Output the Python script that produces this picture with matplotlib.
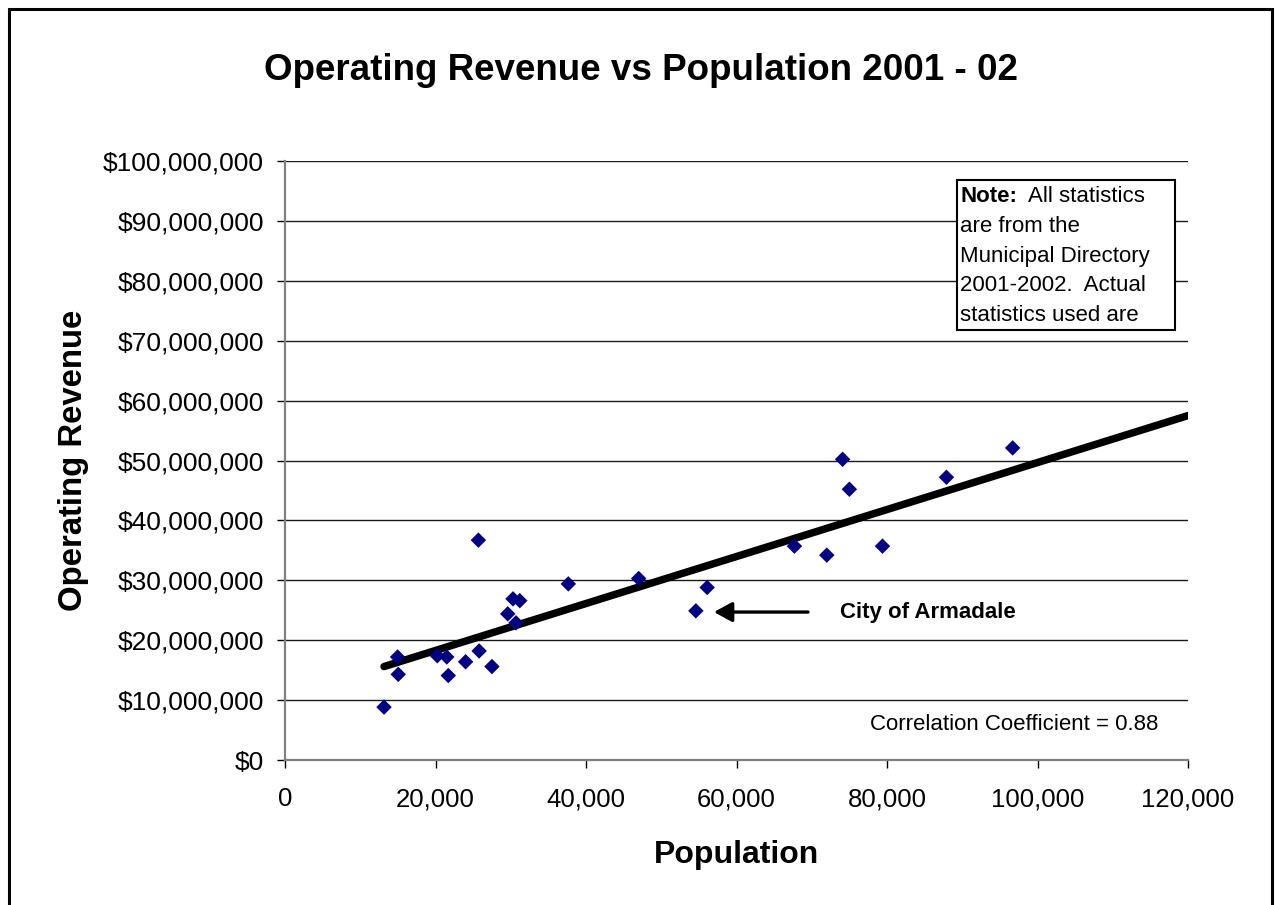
import numpy as np
import matplotlib
matplotlib.use("Agg")
import matplotlib.pyplot as plt
from matplotlib.patches import Rectangle
from matplotlib.ticker import FuncFormatter

plt.rcParams['font.family'] = ['Liberation Sans', 'DejaVu Sans']

# Population and operating revenue (dollars) per local government, 2001-02
population = [13160, 14960, 15050, 20240, 21500, 21700, 24000, 25800, 25700,
              27500, 29600, 30300, 30700, 31200, 37650, 47000, 56100, 54600,
              67700, 72000, 74100, 75000, 79400, 87900, 96700]
revenue = [8.83e6, 17.2e6, 14.3e6, 17.4e6, 17.2e6, 14.1e6, 16.4e6, 18.2e6, 36.7e6,
           15.6e6, 24.4e6, 26.9e6, 22.9e6, 26.6e6, 29.4e6, 30.3e6, 28.8e6, 24.9e6,
           35.7e6, 34.2e6, 50.2e6, 45.2e6, 35.7e6, 47.2e6, 52.1e6]

# linear trend line end points (population, revenue)
trend_pop = [13160, 120000]
trend_rev = [15.6e6, 57.5e6]

x_ticks = [0, 20000, 40000, 60000, 80000, 100000, 120000]
y_ticks = [0, 10e6, 20e6, 30e6, 40e6, 50e6, 60e6, 70e6, 80e6, 90e6, 100e6]

highlight_rev = 24.9e6
highlight_name = "City of Armadale"
correlation = 0.88

fig = plt.figure(figsize=(12.76, 9.05), dpi=100)
ax = fig.add_axes([285 / 1276, 1 - 760 / 905, 903 / 1276, 599 / 905])

ax.plot(trend_pop, trend_rev, color='black', lw=5.4,
        solid_capstyle='round', zorder=2)

ax.scatter(population, revenue, marker='D', s=62, color='#000080',
           edgecolors='none', zorder=3)

ax.set_xlim(x_ticks[0], x_ticks[-1])
ax.set_ylim(y_ticks[0], y_ticks[-1])
ax.set_xticks(x_ticks)
ax.set_yticks(y_ticks)
ax.xaxis.set_major_formatter(FuncFormatter(lambda v, p: f"{int(v):,}"))
ax.yaxis.set_major_formatter(FuncFormatter(lambda v, p: f"${int(v):,}"))
ax.tick_params(axis='both', color='#000000', width=1)
ax.tick_params(axis='y', labelsize=19, length=6, pad=9, direction='out')
ax.tick_params(axis='x', labelsize=18.5, length=5.5, pad=14, direction='out')

ax.grid(axis='y', color='#1a1a1a', lw=1.0, zorder=1)
ax.set_axisbelow(True)
for side in ('top', 'right'):
    ax.spines[side].set_visible(False)
for side in ('left', 'bottom'):
    ax.spines[side].set_color('#808080')
    ax.spines[side].set_linewidth(1.6)

ax.set_xlabel("Population", fontsize=23, fontweight='bold', labelpad=21)
ax.set_ylabel("Operating Revenue", fontsize=23.7, fontweight='bold', labelpad=10)

fig.text(641 / 1276, 1 - 70 / 905, "Operating Revenue vs Population 2001 - 02",
         ha='center', va='center', fontsize=26.5, fontweight='bold')

# arrow pointing at the highlighted council
ax.annotate("", xy=(57000, highlight_rev - 0.2e6), xytext=(69500, highlight_rev - 0.2e6),
            arrowprops=dict(arrowstyle='-|>,head_length=1.1,head_width=0.6',
                            color='black', lw=2.4, shrinkA=0, shrinkB=0))
ax.text(73700, highlight_rev - 0.3e6, highlight_name, fontsize=16, fontweight='bold',
        ha='left', va='center')

ax.text(0.967, 0.060, f"Correlation Coefficient = {correlation:.2f}",
        transform=ax.transAxes, fontsize=16, ha='right', va='center')

# note box
box = Rectangle((0.744, 0.718), 0.2415, 0.25, transform=ax.transAxes,
                facecolor='white', edgecolor='black', lw=1.5, zorder=5)
ax.add_patch(box)
note_lines = [("Note:", "  All statistics"), ("", "are from the"),
              ("", "Municipal Directory"), ("", "2001-2002.  Actual"),
              ("", "statistics used are")]
y0 = 0.940
dy = 0.0495
fig.canvas.draw()
for i, (bold, rest) in enumerate(note_lines):
    yy = y0 - i * dy
    xs = 0.748
    if bold:
        t1 = ax.text(xs, yy, bold, transform=ax.transAxes, fontsize=16,
                     fontweight='bold', ha='left', va='center', zorder=6)
        bb = t1.get_window_extent(renderer=fig.canvas.get_renderer())
        xs = ax.transAxes.inverted().transform((bb.x1, bb.y0))[0]
    ax.text(xs, yy, rest, transform=ax.transAxes, fontsize=16,
            ha='left', va='center', zorder=6)

# outer chart border
fig.patches.append(Rectangle((9 / 1276, -0.05), (1272 - 9) / 1276, 1.05 - 9 / 905,
                             transform=fig.transFigure, fill=False,
                             edgecolor='black', lw=2.2, clip_on=False))

fig.savefig("out.png", dpi=100)
